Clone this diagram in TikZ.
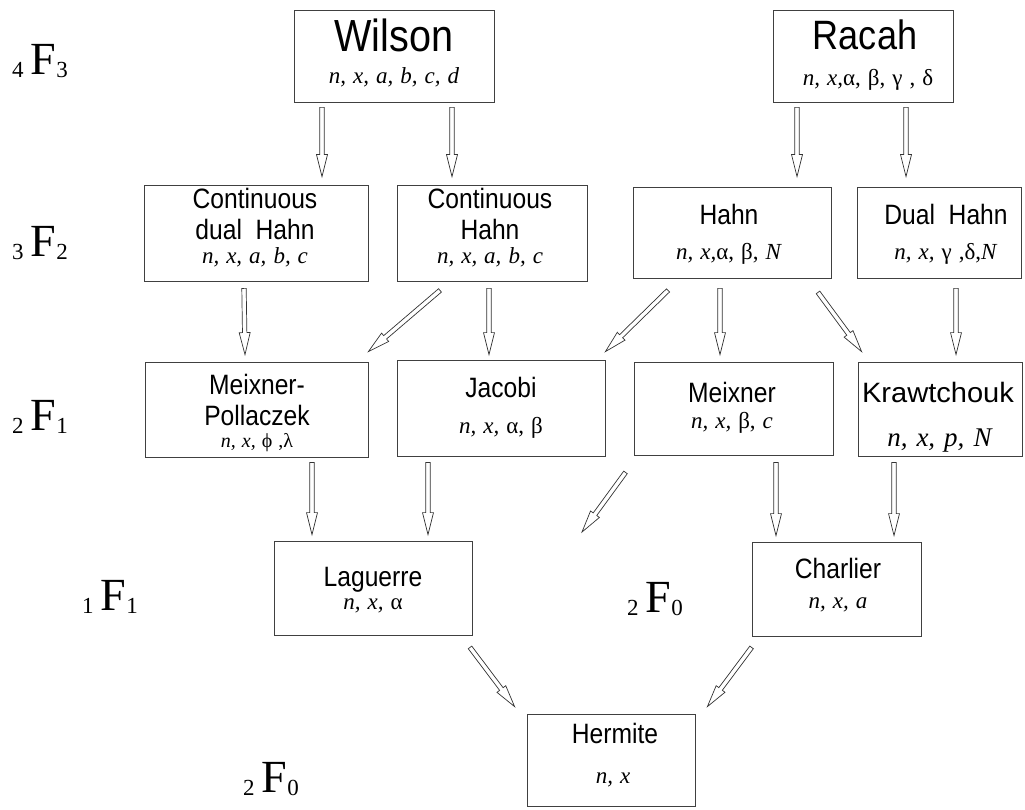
\documentclass[tikz,border=0pt]{standalone}
\usepackage{fontspec}
\setmainfont{Liberation Serif}
\setsansfont{Liberation Sans}
\newfontfamily\ttlfont[FakeStretch=0.88]{Liberation Sans}
\usetikzlibrary{arrows.meta,calc}
\newcommand{\hypg}[2]{{\fontsize{23}{23}\selectfont\raisebox{-3pt}{#1}\hspace{7pt}}{\fontsize{46}{46}\selectfont F}{\fontsize{23}{23}\selectfont\raisebox{-3pt}{#2}}}
\newcommand{\prmfont}{\fontsize{23}{23}\selectfont\spaceskip 7pt\relax}
\newcommand{\prmsmall}{\fontsize{20}{20}\selectfont\spaceskip 6pt\relax}
\newcommand{\prmlarge}{\fontsize{27}{27}\selectfont\spaceskip 9pt\relax}
\newcommand{\harrow}[2]{%
  \draw[arr] let \p1=(#1), \p2=(#2), \p3=($(\p2)!22pt!(\p1)$) in
    ($(\p1)!2.2pt!90:(\p2)$) -- ($(\p3)!2.2pt!90:(\p2)$) -- ($(\p3)!5.5pt!90:(\p2)$)
    -- (\p2) -- ($(\p3)!5.5pt!-90:(\p2)$) -- ($(\p3)!2.2pt!-90:(\p2)$)
    -- ($(\p1)!2.2pt!-90:(\p2)$) -- cycle;}
\begin{document}
\begin{tikzpicture}[x=1pt,y=-1pt,
  box/.style={draw=black!75, line width=0.8pt, inner sep=0pt},
  ttl/.style={font=\ttlfont\fontsize{28}{28}\selectfont, anchor=base, inner sep=0pt},
  big/.style={font=\ttlfont\fontsize{41}{41}\selectfont, anchor=base, inner sep=0pt},
  prm/.style={font=\prmfont, anchor=base, inner sep=0pt},
  lab/.style={anchor=base west, inner sep=0pt},
  arr/.style={draw=black!80, line width=0.7pt, fill=white, line join=miter}
]
\useasboundingbox (0,0) rectangle (1025,810);
% boxes
\node[box, minimum width=200pt, minimum height=92pt] (wilson) at (394,56) {};
\node[box, minimum width=180pt, minimum height=92pt] (racah) at (863,56) {};
\node[box, minimum width=224pt, minimum height=96pt] (cdh) at (256,233) {};
\node[box, minimum width=190pt, minimum height=96pt] (ch) at (492,233) {};
\node[box, minimum width=198pt, minimum height=91pt] (hahn) at (732,232.5) {};
\node[box, minimum width=164pt, minimum height=91pt] (dhahn) at (939,232.5) {};
\node[box, minimum width=223pt, minimum height=95pt] (mp) at (256.5,409.5) {};
\node[box, minimum width=208pt, minimum height=96pt] (jacobi) at (501,408) {};
\node[box, minimum width=199pt, minimum height=93pt] (meixner) at (733.5,408.5) {};
\node[box, minimum width=164pt, minimum height=94pt] (kraw) at (940,409) {};
\node[box, minimum width=198pt, minimum height=94pt] (laguerre) at (373,588) {};
\node[box, minimum width=169pt, minimum height=94pt] (charlier) at (836.5,589) {};
\node[box, minimum width=168pt, minimum height=92pt] (hermite) at (611,760) {};
% texts
\node[big, font=\ttlfont\fontsize{45}{45}\selectfont] (t1) at (394,52) {Wilson};
\node[prm] (p1) at (394,84) {\textit{n, x, a, b, c, d}};
\node[big] (t2) at (865,50) {Racah};
\node[prm] (p2) at (868,86) {\textit{n, x,}α, β, γ , δ};
\node[ttl] (t3a) at (255,209) {Continuous};
\node[ttl] (t3b) at (255,240) {dual \ Hahn};
\node[prm] (p3) at (255,264) {\textit{n, x, a, b, c}};
\node[ttl] (t4a) at (490,209) {Continuous};
\node[ttl] (t4b) at (490,240) {Hahn};
\node[prm] (p4) at (490,264) {\textit{n, x, a, b, c}};
\node[ttl] (t5) at (729,225) {Hahn};
\node[prm] (p5) at (729,260) {\textit{n, x,}α, β, \textit{N}};
\node[ttl] (t6) at (946,225) {Dual \ Hahn};
\node[prm] (p6) at (946,260) {\textit{n, x,} γ ,δ,\textit{N}};
\node[ttl] (t7a) at (257,394) {Meixner-};
\node[ttl] (t7b) at (257,425) {Pollaczek};
\node[prm, font=\prmsmall] (p7) at (257,447) {\textit{n, x,} ϕ ,λ};
\node[ttl] (t8) at (501,397) {Jacobi};
\node[prm] (p8) at (501,433) {\textit{n, x,} α, β};
\node[ttl] (t9) at (732,402) {Meixner};
\node[prm] (p9) at (732,428) {\textit{n, x,} β, \textit{c}};
\node[ttl] (t10) at (938,402) {\scalebox{1.18}[1]{Krawtchouk}};
\node[prm, font=\prmlarge] (p10) at (940,446) {\textit{n, x, p, N}};
\node[ttl] (t11) at (373,586) {Laguerre};
\node[prm] (p11) at (373,609) {\textit{n, x,} α};
\node[ttl] (t12) at (838,578) {Charlier};
\node[prm] (p12) at (838,608) {\textit{n, x, a}};
\node[ttl] (t13) at (615,743) {Hermite};
\node[prm] (p13) at (613,783) {\textit{n, x}};
% hypergeometric labels
\node[lab] (l1) at (12,75) {\hypg{4}{3}};
\node[lab] (l2) at (12,257) {\hypg{3}{2}};
\node[lab] (l3) at (12,430) {\hypg{2}{1}};
\node[lab] (l4) at (82,610) {\hypg{1}{1}};
\node[lab] (l5) at (627,612) {\hypg{2}{0}};
\node[lab] (l6) at (243,792) {\hypg{2}{0}};
% arrows
\coordinate (free) at (582,532);
\harrow{[xshift=-72pt,yshift=-5pt]wilson.south}{[xshift=66pt,yshift=8pt]cdh.north}
\harrow{[xshift=58pt,yshift=-5pt]wilson.south}{[xshift=-40pt,yshift=8pt]ch.north}
\harrow{[xshift=-66pt,yshift=-5pt]racah.south}{[xshift=65pt,yshift=10pt]hahn.north}
\harrow{[xshift=43pt,yshift=-5pt]racah.south}{[xshift=-33pt,yshift=10pt]dhahn.north}
\harrow{[xshift=-12pt,yshift=-7pt]cdh.south}{[xshift=-11.5pt,yshift=7pt]mp.north}
\harrow{[xshift=-52pt,yshift=-9pt]ch.south}{[xshift=0pt,yshift=10pt]mp.north east}
\harrow{[xshift=-3pt,yshift=-7pt]ch.south}{[xshift=-12pt,yshift=5pt]jacobi.north}
\harrow{[xshift=-64pt,yshift=-12pt]hahn.south}{[xshift=0pt,yshift=8pt]jacobi.north east}
\harrow{[xshift=-12pt,yshift=-10pt]hahn.south}{[xshift=-13.5pt,yshift=7pt]meixner.north}
\harrow{[xshift=86pt,yshift=-14pt]hahn.south}{[xshift=4pt,yshift=10pt]kraw.north west}
\harrow{[xshift=17pt,yshift=-10pt]dhahn.south}{[xshift=16pt,yshift=7pt]kraw.north}
\harrow{[xshift=55.5pt,yshift=-5pt]mp.south}{[xshift=-61pt,yshift=6pt]laguerre.north}
\harrow{[xshift=-73pt,yshift=-6pt]jacobi.south}{[xshift=55pt,yshift=6pt]laguerre.north}
\harrow{[xshift=-108pt,yshift=-17pt]meixner.south}{free}
\harrow{[xshift=42.5pt,yshift=-7pt]meixner.south}{[xshift=-60.5pt,yshift=6pt]charlier.north}
\harrow{[xshift=-46pt,yshift=-6pt]kraw.south}{[xshift=57.5pt,yshift=6pt]charlier.north}
\harrow{[xshift=97pt,yshift=-12pt]laguerre.south}{[xshift=-12pt,yshift=7pt]hermite.north west}
\harrow{[xshift=0pt,yshift=-11pt]charlier.south west}{[xshift=12pt,yshift=7pt]hermite.north east}
\end{tikzpicture}
\end{document}
